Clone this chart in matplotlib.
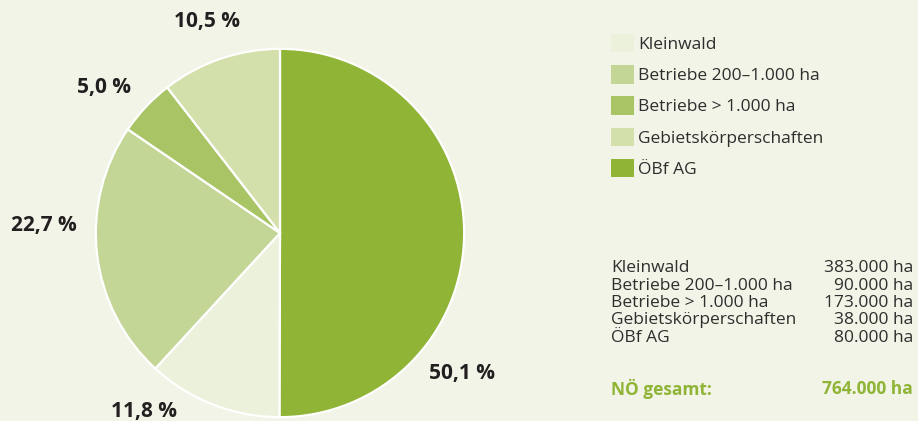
import matplotlib.pyplot as plt
from matplotlib.patches import Patch

plt.rcParams['font.family'] = ['Open Sans', 'DejaVu Sans']

# Kategorien (Legendenreihenfolge)
categories = ['Kleinwald', 'Betriebe 200–1.000 ha', 'Betriebe > 1.000 ha',
              'Gebietskörperschaften', 'ÖBf AG']
colors = ['#ecf1db', '#c3d696', '#a9c465', '#d3e0ab', '#8fb436']

# Anteile im Kreis, im Uhrzeigersinn ab 12 Uhr
pie_order = ['ÖBf AG', 'Kleinwald', 'Betriebe 200–1.000 ha',
             'Betriebe > 1.000 ha', 'Gebietskörperschaften']
pie_shares = [50.1, 11.8, 22.7, 5.0, 10.5]

# Tabelle rechts
table_names = ['Kleinwald', 'Betriebe 200–1.000 ha', 'Betriebe > 1.000 ha',
               'Gebietskörperschaften', 'ÖBf AG']
table_values = ['383.000 ha', '90.000 ha', '173.000 ha', '38.000 ha', '80.000 ha']
total_label = 'NÖ gesamt:'
total_value = '764.000 ha'

bg = '#f1f4e6'
txt = '#2e2e2e'
W, H = 918, 421
fig = plt.figure(figsize=(W / 100, H / 100), dpi=100, facecolor=bg)

# Kreis: Mittelpunkt (280, 233) px, Radius 186 px
cx, cy, r = 280, 233, 186
ax = fig.add_axes([(cx - r) / W, (H - cy - r) / H, 2 * r / W, 2 * r / H])
ax.set_facecolor(bg)
color_map = dict(zip(categories, colors))
wedges, _ = ax.pie(pie_shares, colors=[color_map[c] for c in pie_order],
                   startangle=90, counterclock=False,
                   wedgeprops=dict(edgecolor='white', linewidth=1.6))
ax.set_xlim(-1.01, 1.01)
ax.set_ylim(-1.01, 1.01)
ax.set_aspect('equal')
ax.axis('off')

# Prozentbeschriftungen
label_pos = [(462, 374), (144, 411), (44, 225), (104, 87), (207, 22)]
for share, (px, py) in zip(pie_shares, label_pos):
    fig.text(px / W, 1 - py / H, f'{share:.1f} %'.replace('.', ','),
             ha='center', va='center', fontsize=15, fontweight='bold',
             color='#231f20')

# Legende
handles = [Patch(facecolor=c, edgecolor='none') for c in colors]
leg = fig.legend(handles, categories, loc='upper left',
                 bbox_to_anchor=(611 / W, 1 - 34 / H), frameon=False,
                 fontsize=12.5, handlelength=1.35, handleheight=1.25,
                 handletextpad=0.22, labelspacing=0.7, borderpad=0,
                 borderaxespad=0)
for t in leg.get_texts():
    t.set_color(txt)

# Tabelle
row_y = [268, 285.5, 303, 320.5, 338]
for name, val, y in zip(table_names, table_values, row_y):
    fig.text(611 / W, 1 - y / H, name, ha='left', va='center',
             fontsize=12.5, color=txt)
    fig.text(913 / W, 1 - y / H, val, ha='right', va='center',
             fontsize=12.5, color=txt)
fig.text(611 / W, 1 - 389 / H, total_label, ha='left', va='center',
         fontsize=12.5, fontweight='bold', color='#8fb436')
fig.text(913 / W, 1 - 389 / H, total_value, ha='right', va='center',
         fontsize=12.5, fontweight='bold', color='#8fb436')

fig.savefig('out.png', dpi=100, facecolor=bg)
